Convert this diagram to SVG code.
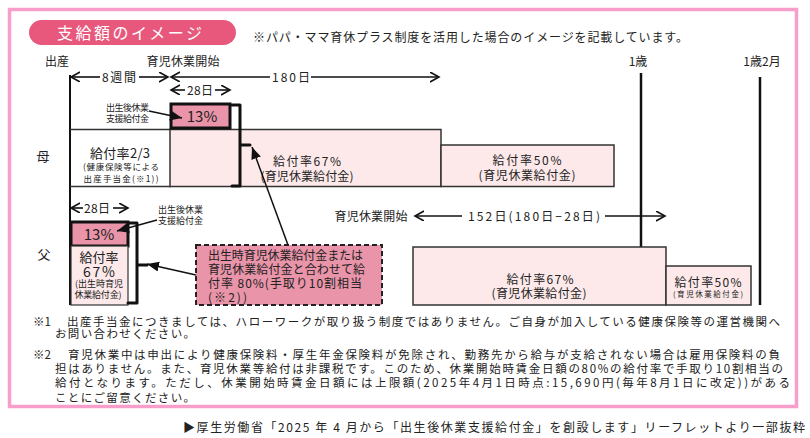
<svg xmlns="http://www.w3.org/2000/svg" width="810" height="438" viewBox="0 0 810 438">
<style>
text{font-family:"Noto Sans CJK JP","Noto Sans",sans-serif;fill:#222}
.c{text-anchor:middle}
.t12{font-size:12px}
.t13{font-size:12px}
.t9{font-size:9px}
.fn{font-size:11.5px}
.ln{stroke:#111;stroke-width:1.6;fill:none}
.box{fill:#FDE9EA;stroke:#333;stroke-width:1.5}
.pct{fill:#E994A9;stroke:#111;stroke-width:3}
.br{stroke:#111;stroke-width:3;fill:none;stroke-linejoin:round;stroke-linecap:round}
.age{stroke:#111;stroke-width:2.5}
</style>
<defs>
<marker id="chev" markerUnits="userSpaceOnUse" markerWidth="12" markerHeight="12" refX="9" refY="5" orient="auto"><path d="M0,0 L9,5 L0,10" fill="none" stroke="#111" stroke-width="1.6"/></marker>
<marker id="tri" markerUnits="userSpaceOnUse" markerWidth="14" markerHeight="12" refX="12" refY="5" orient="auto"><path d="M0,0 L12,5 L0,10 Z" fill="#111"/></marker>
</defs>
<rect x="9.5" y="9.5" width="787" height="397" fill="#fff" stroke="#F79ECB" stroke-width="3.5"/>
<g id="title">
<rect x="29" y="20" width="207" height="25" rx="12.5" fill="#E8587C"/>
<text x="131" y="39" class="c" style="font-size:16px;fill:#fff;letter-spacing:3px" textLength="148">支給額のイメージ</text>
</g>
<text x="253" y="42" class="t12" textLength="435">※パパ・ママ育休プラス制度を活用した場合のイメージを記載しています。</text>
<g id="timeline-labels">
<text x="57" y="66" class="c t12">出産</text>
<text x="183" y="66" class="c t12" textLength="73">育児休業開始</text>
<text x="638" y="66" class="c t12">1歳</text>
<text x="762" y="66" class="c t12">1歳2月</text>
<text x="43" y="161" class="c" style="font-size:13px">母</text>
<text x="44" y="259" class="c" style="font-size:13px">父</text>
</g>
<g id="axis-lines">
<line x1="70" y1="75" x2="70" y2="305" stroke="#111" stroke-width="2"/>
<line class="age" x1="641" y1="73" x2="641" y2="247"/>
<line class="age" x1="760" y1="77" x2="760" y2="305"/>
</g>
<g id="mother-cell">
<line x1="70" y1="129.5" x2="171" y2="129.5" stroke="#333" stroke-width="1.5"/>
<line x1="70" y1="186.5" x2="171" y2="186.5" stroke="#333" stroke-width="1.5"/>
<text x="120" y="158" class="c" style="font-size:13px" textLength="60">給付率2/3</text>
<text x="121" y="170" class="c" style="font-size:8.5px" textLength="76">(健康保険等による</text>
<text x="121" y="181.5" class="c" style="font-size:8.5px" textLength="75">出産手当金(※1))</text>
</g>
<g id="mother-67">
<rect class="box" x="170" y="129.5" width="271" height="57"/>
<text x="307" y="166" class="c t13" textLength="68">給付率67%</text>
<text x="307" y="180.5" class="c t13" textLength="93">(育児休業給付金)</text>
</g>
<g id="mother-50">
<rect class="box" x="441" y="145" width="173" height="41.5"/>
<text x="527" y="165" class="c t13" textLength="69">給付率50%</text>
<text x="527" y="179.5" class="c t13" textLength="97">(育児休業給付金)</text>
</g>
<g id="mother-13">
<rect class="pct" x="171" y="104" width="59" height="24"/>
<text x="202" y="121.5" class="c" style="font-size:15px">13%</text>
</g>
<g id="mother-label">
<text x="106" y="111" class="t9" textLength="43">出生後休業</text>
<text x="106" y="121.5" class="t9" textLength="43">支援給付金</text>
</g>
<g id="father-13">
<rect class="pct" x="71" y="222" width="57" height="24"/>
<text x="99" y="239.5" class="c" style="font-size:15px">13%</text>
</g>
<g id="father-label">
<text x="158" y="212.5" class="t9" textLength="45">出生後休業</text>
<text x="158" y="223.5" class="t9" textLength="45">支援給付金</text>
</g>
<g id="father-cell">
<rect x="71" y="246" width="57" height="59" fill="#FDE9EA" stroke="#333" stroke-width="1.2"/>
<text x="99" y="261.5" class="c" style="font-size:13px">給付率</text>
<text x="99" y="277" class="c" style="font-size:14px" textLength="32">67%</text>
<text x="99" y="287" class="c" style="font-size:9px" textLength="48">(出生時育児</text>
<text x="98" y="297.5" class="c" style="font-size:9px" textLength="47">休業給付金)</text>
</g>
<g id="father-67">
<rect class="box" x="413" y="247" width="253" height="58"/>
<text x="540" y="284" class="c t13" textLength="67">給付率67%</text>
<text x="539" y="297.5" class="c t13" textLength="95">(育児休業給付金)</text>
</g>
<g id="father-50">
<rect class="box" x="666" y="266" width="85" height="39"/>
<text x="708" y="286.5" class="c t12" textLength="67">給付率50%</text>
<text x="708" y="297" class="c" style="font-size:7.5px" textLength="70">(育児休業給付金)</text>
</g>
<g id="note-box">
<rect x="196" y="245" width="186" height="60" fill="#E994A9" stroke="#222" stroke-width="2" stroke-dasharray="5 3"/>
<text x="208" y="260" class="t13" textLength="155">出生時育児休業給付金または</text>
<text x="208" y="273.5" class="t13" textLength="157">育児休業給付金と合わせて給</text>
<text x="208" y="287.5" class="t13" textLength="154">付率 80%(手取り10割相当</text>
<text x="208" y="302" class="t13" textLength="39">(※2))</text>
</g>
<g id="connectors">
<line class="ln" x1="100" y1="77" x2="71" y2="77" marker-end="url(#chev)"/>
<text x="119" y="81.5" class="c t12" textLength="34">8週間</text>
<line class="ln" x1="139" y1="77" x2="168" y2="77" marker-end="url(#chev)"/>
<line class="ln" x1="270" y1="77" x2="171" y2="77" marker-end="url(#chev)"/>
<text x="291" y="81.5" class="c t12" textLength="38">180日</text>
<line class="ln" x1="311" y1="77" x2="439" y2="77" marker-end="url(#chev)"/>
<line class="ln" x1="185" y1="90" x2="171" y2="90" marker-end="url(#chev)"/>
<text x="200" y="94.5" class="c t12" textLength="26">28日</text>
<line class="ln" x1="215" y1="90" x2="230" y2="90" marker-end="url(#chev)"/>
<line class="ln" x1="83" y1="208" x2="71" y2="208" marker-end="url(#chev)"/>
<text x="97" y="212.5" class="c t12" textLength="26">28日</text>
<line class="ln" x1="113" y1="208" x2="128" y2="208" marker-end="url(#chev)"/>
<text x="371" y="220.5" class="c t12" textLength="73">育児休業開始</text>
<line class="ln" x1="462" y1="216" x2="415" y2="216" marker-end="url(#chev)"/>
<text x="534" y="220.5" class="c t12" textLength="132">152日(180日−28日)</text>
<line class="ln" x1="605" y1="216" x2="665" y2="216" marker-end="url(#chev)"/>
<path class="br" d="M232,105 H240 V186 H232 M240,145 H250"/>
<path class="br" d="M128,223 H137 V303 H128 M137,265 H147"/>
<line stroke="#111" stroke-width="1.3" x1="149" y1="111" x2="182" y2="118" marker-end="url(#tri)"/>
<line stroke="#111" stroke-width="1.3" x1="157" y1="220" x2="117" y2="231" marker-end="url(#tri)"/>
<line stroke="#111" stroke-width="1.5" x1="196" y1="275" x2="147" y2="264" marker-end="url(#tri)"/>
<line stroke="#111" stroke-width="1.5" x1="288" y1="245" x2="252" y2="147" marker-end="url(#tri)"/>
</g>
<g id="footnotes">
<text x="33" y="325.5" class="fn">※1</text>
<text x="67" y="325.5" class="fn" textLength="713">出産手当金につきましては、ハローワークが取り扱う制度ではありません。ご自身が加入している健康保険等の運営機関へ</text>
<text x="55" y="338" class="fn" textLength="140">お問い合わせください。</text>
<text x="33" y="358.5" class="fn">※2</text>
<text x="68" y="358.5" class="fn" textLength="712">育児休業中は申出により健康保険料・厚生年金保険料が免除され、勤務先から給与が支給されない場合は雇用保険料の負</text>
<text x="55" y="372.5" class="fn" textLength="728">担はありません。また、育児休業等給付は非課税です。このため、休業開始時賃金日額の80%の給付率で手取り10割相当の</text>
<text x="55" y="387" class="fn" textLength="735">給付となります。ただし、休業開始時賃金日額には上限額(2025年4月1日時点:15,690円(毎年8月1日に改定))がある</text>
<text x="55" y="402" class="fn" textLength="140">ことにご留意ください。</text>
</g>
<text x="183" y="431.5" class="t12" textLength="622">▶厚生労働省「2025 年 4 月から「出生後休業支援給付金」を創設します」リーフレットより一部抜粋</text>
</svg>
